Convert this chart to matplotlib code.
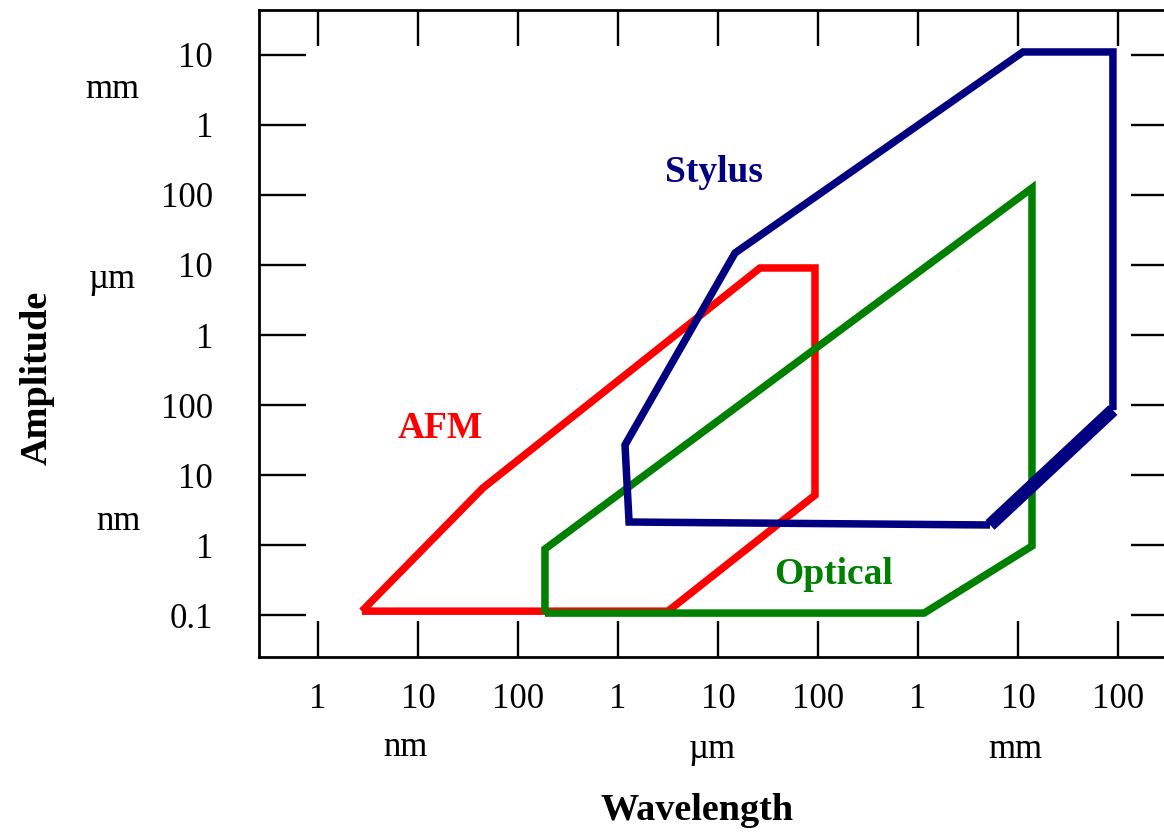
import matplotlib
matplotlib.use("Agg")
import matplotlib.pyplot as plt

# ---------------- data (all values in nanometres) ----------------
x_tick_values = [1, 10, 100, 1e3, 1e4, 1e5, 1e6, 1e7, 1e8]
x_tick_labels = ["1", "10", "100", "1", "10", "100", "1", "10", "100"]
y_tick_values = [0.1, 1, 10, 100, 1e3, 1e4, 1e5, 1e6, 1e7]
y_tick_labels = ["0.1", "1", "10", "100", "1", "10", "100", "1", "10"]

afm_wavelength = [2.75, 44.7, 2.63e4, 9.33e4, 9.33e4, 3.16e3, 2.75]
afm_amplitude = [0.115, 6.6, 9.04e3, 9.04e3, 5.2, 0.115, 0.115]

optical_wavelength = [186, 186, 1.38e7, 1.38e7, 1.15e6, 186]
optical_amplitude = [0.108, 0.885, 1.25e5, 0.977, 0.108, 0.108]

stylus_wavelength = [5.25e6, 1290, 1175, 1.48e4, 1.12e7, 8.9e7, 8.9e7]
stylus_amplitude = [1.95, 2.15, 27, 1.48e4, 1.09e7, 1.09e7, 85]
stylus_thick_wavelength = [8.9e7, 5.25e6]
stylus_thick_amplitude = [85, 1.95]

W, H = 1164, 835
fig = plt.figure(figsize=(W / 100, H / 100), dpi=100)
ax_l, ax_r, ax_t, ax_b = 259, 1178, 10, 657
ax = fig.add_axes([ax_l / W, 1 - ax_b / H, (ax_r - ax_l) / W, (ax_b - ax_t) / H])
ax.set_xscale("log")
ax.set_yscale("log")
ax.set_xlim(10 ** -0.59, 10 ** 8.60)
ax.set_ylim(10 ** -1.593, 10 ** 7.636)

serif = ["Liberation Serif", "DejaVu Serif"]
lw = 5.4
kw = dict(solid_joinstyle="miter", solid_capstyle="butt")
ax.plot(afm_wavelength, afm_amplitude, color="#FF0000", lw=lw, **kw)
ax.plot(optical_wavelength, optical_amplitude, color="#008000", lw=lw, **kw)
ax.plot(stylus_wavelength, stylus_amplitude, color="#000080", lw=lw, **kw)
ax.plot(stylus_thick_wavelength, stylus_thick_amplitude, color="#000080", lw=9.5, **kw)

ax.set_xticks(x_tick_values)
ax.set_xticklabels(x_tick_labels)
ax.set_yticks(y_tick_values)
ax.set_yticklabels(y_tick_labels)
ax.minorticks_off()
for sp in ax.spines.values():
    sp.set_linewidth(2)
ax.tick_params(axis="both", which="major", direction="in", width=1.7,
               top=True, right=True, labeltop=False, labelright=False)
ax.tick_params(axis="x", length=26, pad=19)
ax.tick_params(axis="y", length=34, pad=33)
for lab in ax.get_xticklabels() + ax.get_yticklabels():
    lab.set_fontfamily(serif)
    lab.set_fontsize(25)


def ftext(px, py, s, **k):
    fig.text(px / W, 1 - py / H, s, ha="center", va="center", family=serif, **k)


# unit labels
ftext(112, 90, "mm", fontsize=25)
ftext(112, 280, "µm", fontsize=25)
ftext(118, 521, "nm", fontsize=25)
ftext(405, 748, "nm", fontsize=25)
ftext(712, 750, "µm", fontsize=25)
ftext(1015, 750, "mm", fontsize=25)

# axis titles
ftext(697, 811, "Wavelength", fontsize=27.5, fontweight="bold")
ftext(37, 378, "Amplitude", fontsize=27.5, fontweight="bold", rotation=90)

# series labels
ftext(714, 173, "Stylus", fontsize=27, fontweight="bold", color="#000080")
ftext(440, 428, "AFM", fontsize=27, fontweight="bold", color="#FF0000")
ftext(834, 574, "Optical", fontsize=27, fontweight="bold", color="#008000")

fig.savefig("out.png", dpi=100)
